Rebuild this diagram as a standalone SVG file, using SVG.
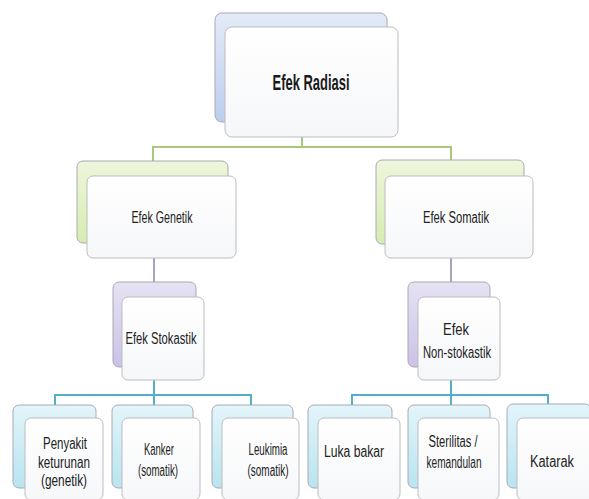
<svg xmlns="http://www.w3.org/2000/svg" width="589" height="499" viewBox="0 0 589 499">
<defs>
<linearGradient id="gBlue" x1="0" y1="0" x2="0" y2="1"><stop offset="0" stop-color="#e4ebf8"/><stop offset="1" stop-color="#bccdee"/></linearGradient>
<linearGradient id="gGreen" x1="0" y1="0" x2="0" y2="1"><stop offset="0" stop-color="#eef6dc"/><stop offset="1" stop-color="#d6ecb0"/></linearGradient>
<linearGradient id="gPurple" x1="0" y1="0" x2="0" y2="1"><stop offset="0" stop-color="#e6e2f3"/><stop offset="1" stop-color="#cbc2e6"/></linearGradient>
<linearGradient id="gCyan" x1="0" y1="0" x2="0" y2="1"><stop offset="0" stop-color="#e2f5fa"/><stop offset="1" stop-color="#b8e4f0"/></linearGradient>
<linearGradient id="gFront" x1="0" y1="0" x2="0" y2="1"><stop offset="0" stop-color="#ffffff"/><stop offset="1" stop-color="#f6f7f9"/></linearGradient>
</defs>
<style>
.back{stroke:#a9a9b4;stroke-width:1}
.front{fill:url(#gFront);stroke:#bdbdc2;stroke-width:1}
.t{font-family:"Liberation Sans",Arial,sans-serif;fill:#222;text-anchor:middle;font-size:16px}
.tb{font-family:"Liberation Sans",Arial,sans-serif;fill:#1a1a1a;text-anchor:middle;font-size:22px;font-weight:bold}
.cg{stroke:#a9c878;stroke-width:2;fill:none}
.cp{stroke:#8a86a8;stroke-width:1.5;fill:none}
.cc{stroke:#4fb0c8;stroke-width:2;fill:none}
</style>
<rect width="589" height="499" fill="#ffffff"/>
<g id="connectors">
<path class="cg" d="M302 137 V147 M153 161 V147 H451 V160"/>
<path class="cp" d="M154 258 V282 M451 258 V282"/>
<path class="cc" d="M154 380 V395 M55 405 V395 H251 V405 M154 395 V405"/>
<path class="cc" d="M451 380 V395 M352 405 V395 H548 V404 M451 395 V405"/>
</g>
<g id="efek-radiasi">
<rect class="back" x="215" y="13" width="172" height="109" rx="7" fill="url(#gBlue)"/>
<rect class="front" x="225" y="27" width="173" height="110" rx="7"/>
<text class="tb" x="311" y="90" textLength="77" lengthAdjust="spacingAndGlyphs">Efek Radiasi</text>
</g>
<g id="efek-genetik">
<rect class="back" x="77" y="161" width="151" height="82" rx="6" fill="url(#gGreen)"/>
<rect class="front" x="87" y="176" width="149" height="82" rx="6"/>
<text class="t" x="162" y="223" textLength="61" lengthAdjust="spacingAndGlyphs">Efek Genetik</text>
</g>
<g id="efek-somatik">
<rect class="back" x="376" y="160" width="148" height="84" rx="6" fill="url(#gGreen)"/>
<rect class="front" x="385" y="176" width="148" height="82" rx="6"/>
<text class="t" x="456" y="223" textLength="66" lengthAdjust="spacingAndGlyphs">Efek Somatik</text>
</g>
<g id="efek-stokastik">
<rect class="back" x="113" y="282" width="83" height="85" rx="6" fill="url(#gPurple)"/>
<rect class="front" x="122" y="297" width="82" height="83" rx="6"/>
<text class="t" x="161" y="344" textLength="71" lengthAdjust="spacingAndGlyphs">Efek Stokastik</text>
</g>
<g id="efek-non-stokastik">
<rect class="back" x="408" y="282" width="82" height="85" rx="6" fill="url(#gPurple)"/>
<rect class="front" x="418" y="297" width="82" height="83" rx="6"/>
<text class="t" x="456" y="335" textLength="26" lengthAdjust="spacingAndGlyphs">Efek</text>
<text class="t" x="457" y="358" textLength="68" lengthAdjust="spacingAndGlyphs">Non-stokastik</text>
</g>
<g id="penyakit-keturunan">
<rect class="back" x="13" y="405" width="83" height="83" rx="6" fill="url(#gCyan)"/>
<rect class="front" x="25" y="418" width="78" height="82" rx="6"/>
<text class="t" x="65" y="449" textLength="44" lengthAdjust="spacingAndGlyphs">Penyakit</text>
<text class="t" x="64" y="468" textLength="52" lengthAdjust="spacingAndGlyphs">keturunan</text>
<text class="t" x="64" y="486" textLength="46" lengthAdjust="spacingAndGlyphs">(genetik)</text>
</g>
<g id="kanker">
<rect class="back" x="112" y="405" width="81" height="83" rx="6" fill="url(#gCyan)"/>
<rect class="front" x="122" y="418" width="78" height="82" rx="6"/>
<text class="t" x="159" y="455" textLength="30" lengthAdjust="spacingAndGlyphs">Kanker</text>
<text class="t" x="158" y="476" textLength="40" lengthAdjust="spacingAndGlyphs">(somatik)</text>
</g>
<g id="leukimia">
<rect class="back" x="212" y="405" width="81" height="83" rx="6" fill="url(#gCyan)"/>
<rect class="front" x="222" y="418" width="77" height="82" rx="6"/>
<text class="t" x="268" y="455" textLength="39" lengthAdjust="spacingAndGlyphs">Leukimia</text>
<text class="t" x="268" y="476" textLength="41" lengthAdjust="spacingAndGlyphs">(somatik)</text>
</g>
<g id="luka-bakar">
<rect class="back" x="308" y="405" width="84" height="83" rx="6" fill="url(#gCyan)"/>
<rect class="front" x="318" y="418" width="82" height="82" rx="6"/>
<text class="t" x="354" y="457" textLength="60" lengthAdjust="spacingAndGlyphs">Luka bakar</text>
</g>
<g id="sterilitas">
<rect class="back" x="408" y="405" width="82" height="83" rx="6" fill="url(#gCyan)"/>
<rect class="front" x="418" y="418" width="81" height="82" rx="6"/>
<text class="t" x="453" y="447" textLength="49" lengthAdjust="spacingAndGlyphs">Sterilitas /</text>
<text class="t" x="454" y="468" textLength="55" lengthAdjust="spacingAndGlyphs">kemandulan</text>
</g>
<g id="katarak">
<rect class="back" x="507" y="404" width="84" height="84" rx="6" fill="url(#gCyan)"/>
<rect class="front" x="517" y="418" width="80" height="82" rx="6"/>
<text class="t" x="552" y="467" textLength="44" lengthAdjust="spacingAndGlyphs">Katarak</text>
</g>
</svg>
